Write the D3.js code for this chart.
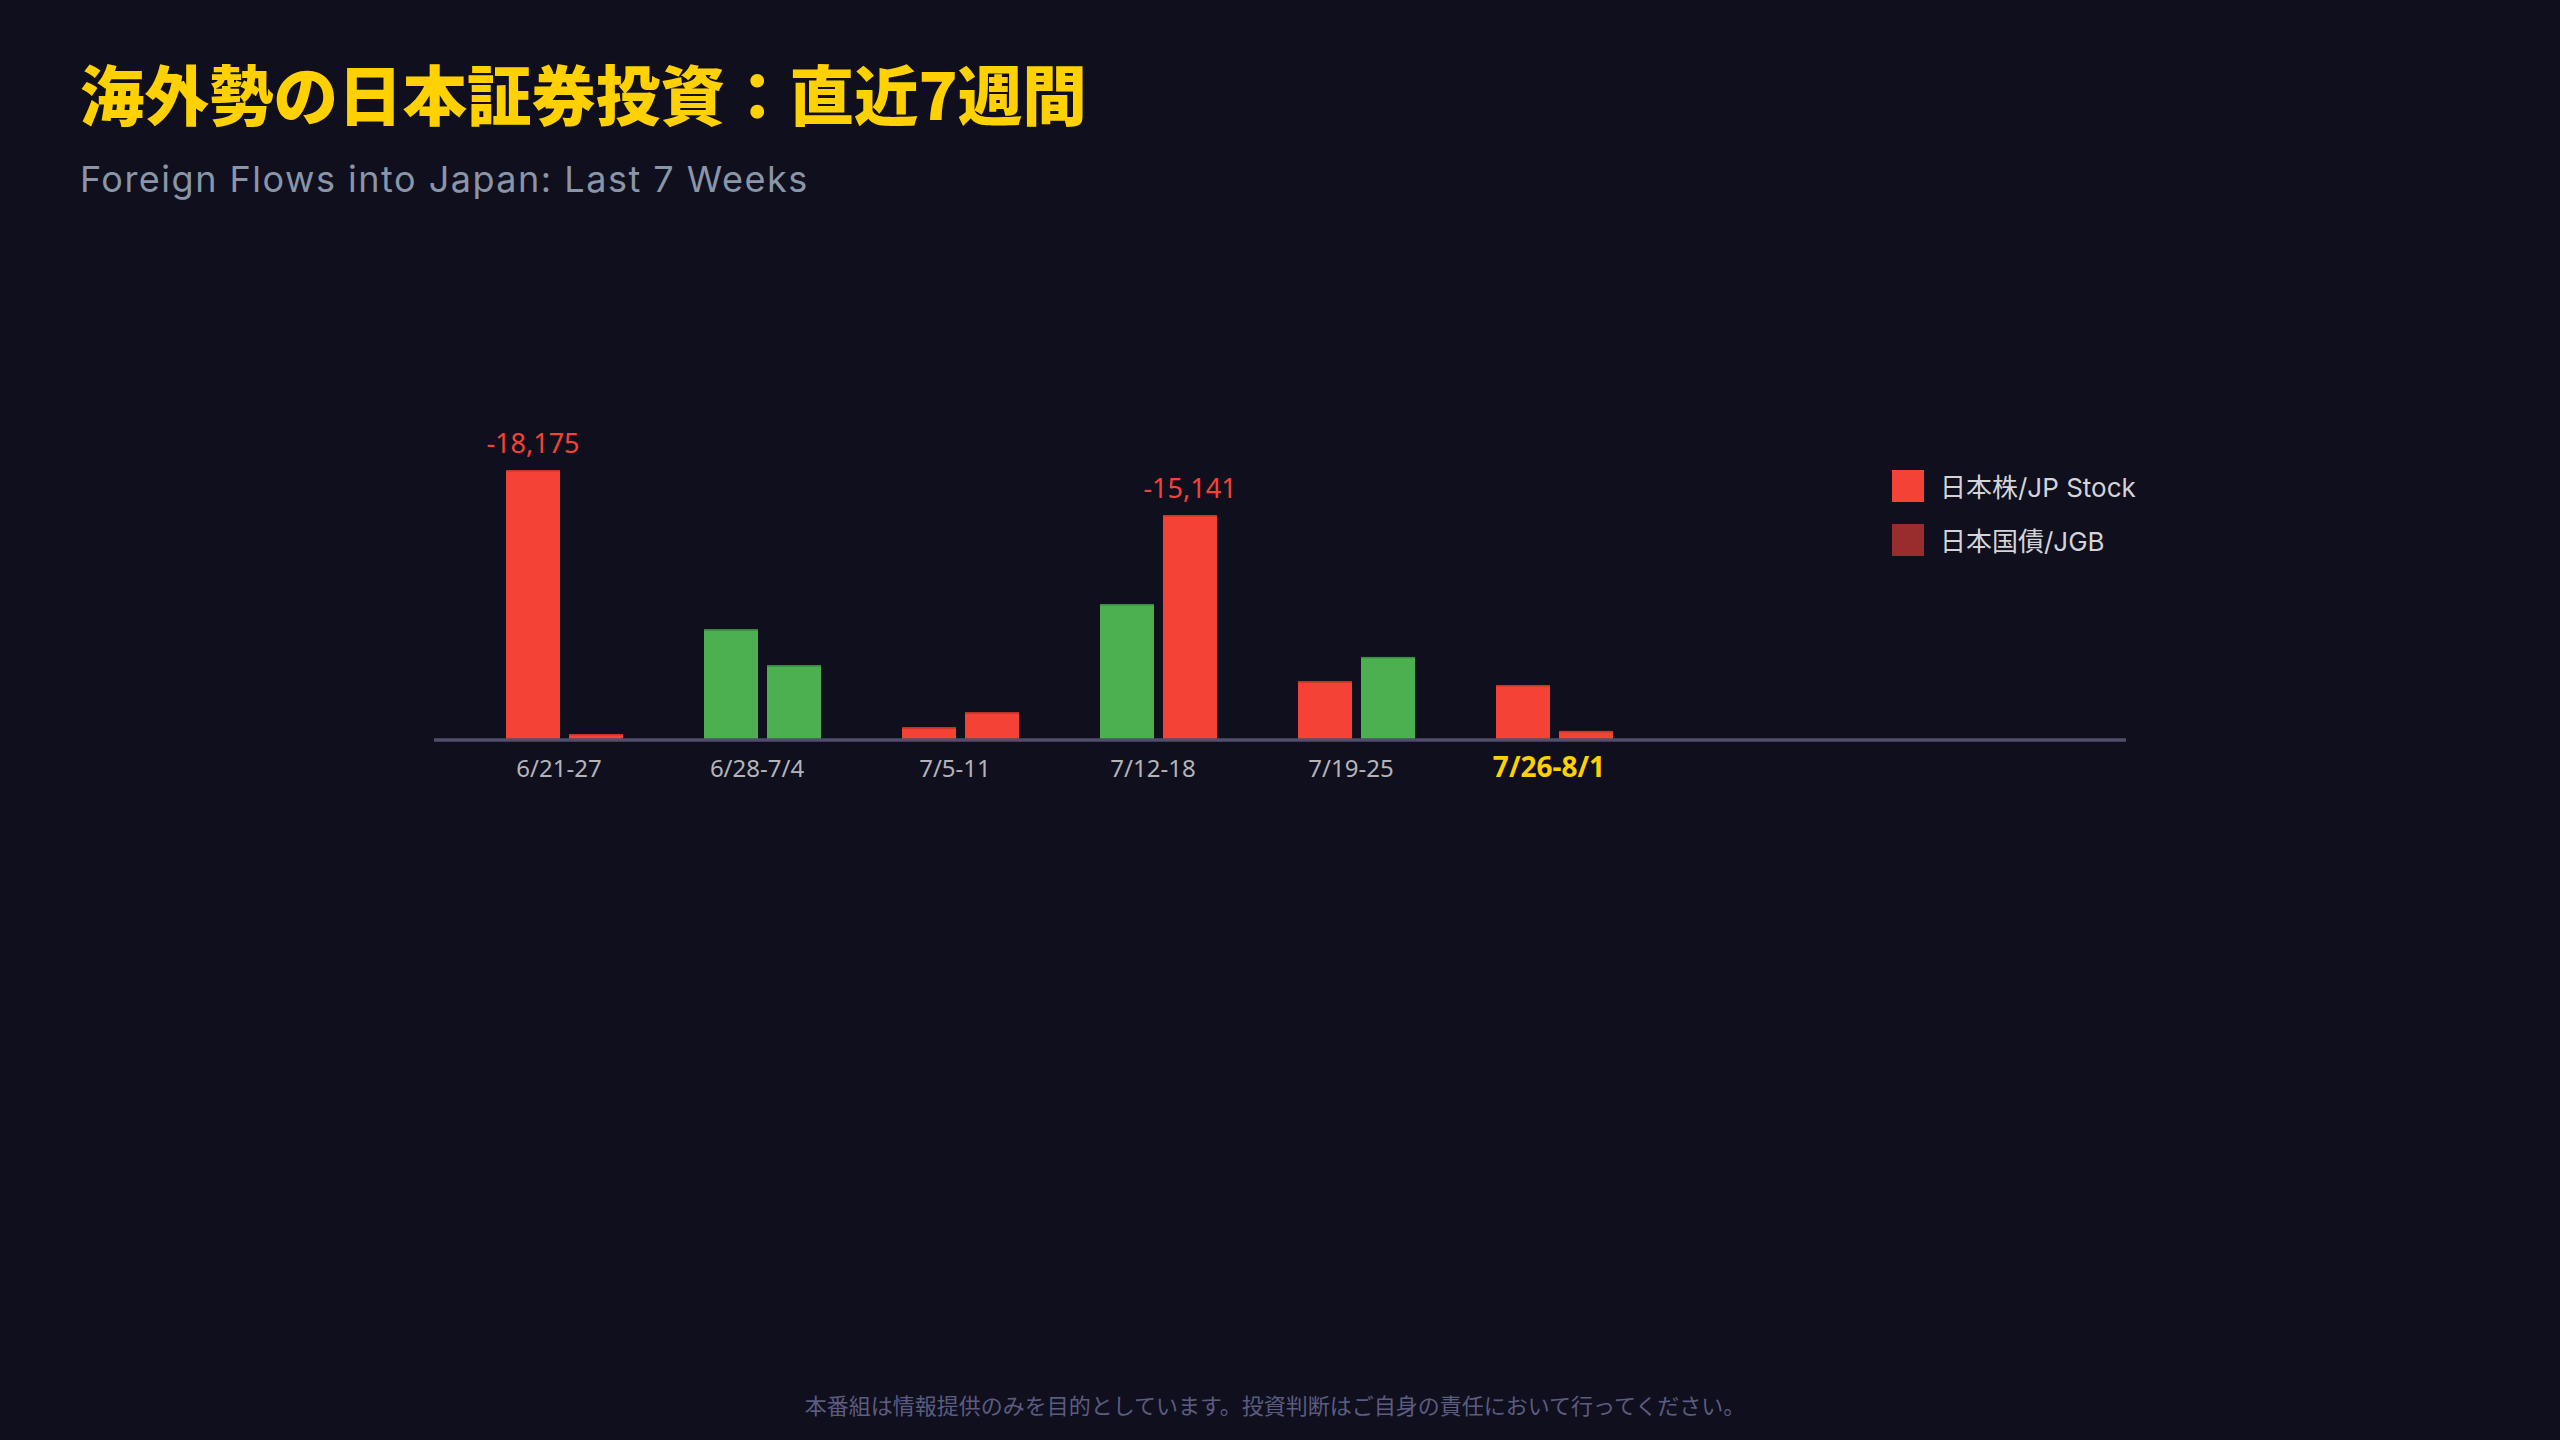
<!DOCTYPE html>
<html>
<head>
<meta charset="utf-8">
<script src="https://cdn.jsdelivr.net/npm/d3@7"></script>
<style>
  html, body { margin: 0; padding: 0; background: #0f0f1e; }
  svg { display: block; }
</style>
</head>
<body>
<div id="container"></div>
<script>
/* DATA */
const weeks = ["6/21-27", "6/28-7/4", "7/5-11", "7/12-18", "7/19-25", "7/26-8/1"]
const series = ["stock", "jgb"]
const seriesNames = ["日本株/JP Stock", "日本国債/JGB"]
// 億円 net flows, negative = outflow
const stockFlows = [-18175, 7450, -850, 9150, -3950, -3700]
const jgbFlows = [-400, 5030, -1860, -15141, 5590, -610]

const title = "海外勢の日本証券投資：直近7週間"
const subtitle = "Foreign Flows into Japan: Last 7 Weeks"
const footer = "本番組は情報提供のみを目的としています。投資判断はご自身の責任において行ってください。"

/* CONSTANTS */
const width = 2560, height = 1440
const baseY = 740
const font = "'Noto Sans', 'Noto Sans CJK JP', sans-serif"
const wideFont = "Inter, 'Noto Sans CJK JP', sans-serif"
const red = "#f44336", green = "#4caf50", jgbRed = "#992d2d"

const data = weeks.map((w, i) => ({ week: w, stock: stockFlows[i], jgb: jgbFlows[i] }))

const svg = d3.select("#container")
  .append("svg")
  .attr("width", width)
  .attr("height", height)

svg.append("rect")
  .attr("width", width)
  .attr("height", height)
  .attr("fill", "#0f0f1e")

// titles
svg.append("text")
  .attr("x", 80).attr("y", 120)
  .attr("font-family", "'Noto Sans CJK JP', sans-serif")
  .attr("font-weight", 900)
  .attr("font-size", 64.5)
  .attr("fill", "#ffd100")
  .text(title)

svg.append("text")
  .attr("x", 80).attr("y", 192)
  .attr("font-family", wideFont)
  .attr("font-size", 36)
  .attr("letter-spacing", 1.5)
  .attr("fill", "#8a95a8")
  .text(subtitle)

// SCALES
const x0 = d3.scaleBand()
  .domain(weeks)
  .range([460, 460 + 198 * weeks.length])

const x1 = d3.scaleBand()
  .domain(series)
  .range([46, 163])
  .paddingInner(0.143)

const maxAbs = d3.max(data, d => Math.max(Math.abs(d.stock), Math.abs(d.jgb)))
const yScale = d3.scaleLinear()
  .domain([0, maxAbs])
  .range([baseY, baseY - 270])

// BARS
const groups = svg.selectAll(".group")
  .data(data)
  .join("g")
  .attr("class", "group")
  .attr("transform", d => `translate(${x0(d.week)},0)`)

const cells = groups.selectAll("g.cell")
  .data(d => series.map(s => ({ key: s, value: d[s] })))
  .join("g")
  .attr("class", "cell")

cells.append("rect")
  .attr("x", d => x1(d.key))
  .attr("y", d => yScale(Math.abs(d.value)))
  .attr("width", x1.bandwidth())
  .attr("height", d => baseY - yScale(Math.abs(d.value)))
  .attr("fill", d => d.value < 0 ? red : green)

// thin darker top edge
cells.append("rect")
  .attr("x", d => x1(d.key))
  .attr("y", d => yScale(Math.abs(d.value)))
  .attr("width", x1.bandwidth())
  .attr("height", 1.5)
  .attr("fill", d => d.value < 0 ? "#c9352b" : "#3d8c41")

// big value labels
cells.filter(d => Math.abs(d.value) > 10000)
  .append("text")
  .attr("x", d => x1(d.key) + x1.bandwidth() / 2)
  .attr("y", d => yScale(Math.abs(d.value)) - 17)
  .attr("text-anchor", "middle")
  .attr("font-family", font)
  .attr("font-size", 27)
  .attr("fill", red)
  .text(d => d3.format(",")(d.value).replace("\u2212", "-"))

// baseline
svg.append("line")
  .attr("x1", 434).attr("x2", 2126)
  .attr("y1", yScale(0)).attr("y2", yScale(0))
  .attr("stroke", "#4f4f6d")
  .attr("stroke-width", 3.5)

// AXIS
const xAxis = d3.axisBottom(x0).tickSize(0).tickPadding(0)
const axisG = svg.append("g")
  .attr("transform", `translate(0,${baseY})`)
  .call(xAxis)
axisG.select(".domain").remove()
axisG.selectAll("text")
  .attr("dy", null)
  .attr("y", 37)
  .attr("font-family", font)
  .attr("font-size", 24)
  .attr("fill", "#b4b4b8")
axisG.selectAll(".tick")
  .filter(d => d === weeks[weeks.length - 1])
  .select("text")
  .attr("font-size", 28)
  .attr("font-weight", 700)
  .attr("fill", "#ffd100")

// LEGEND
const legendColors = [red, jgbRed]
const legend = svg.selectAll(".legend")
  .data(seriesNames)
  .join("g")
  .attr("class", "legend")
  .attr("transform", (d, i) => `translate(1892,${470 + i * 54})`)

legend.append("rect")
  .attr("width", 32).attr("height", 32)
  .attr("fill", (d, i) => legendColors[i])

legend.append("text")
  .attr("x", 48).attr("y", 27)
  .attr("font-family", wideFont)
  .attr("font-size", 26)
  .attr("fill", "#d4d4d8")
  .text(d => d)

// footer
svg.append("text")
  .attr("x", 1275).attr("y", 1414)
  .attr("text-anchor", "middle")
  .attr("font-family", font)
  .attr("font-size", 22)
  .attr("fill", "#5c5c80")
  .text(footer)
</script>
</body>
</html>
